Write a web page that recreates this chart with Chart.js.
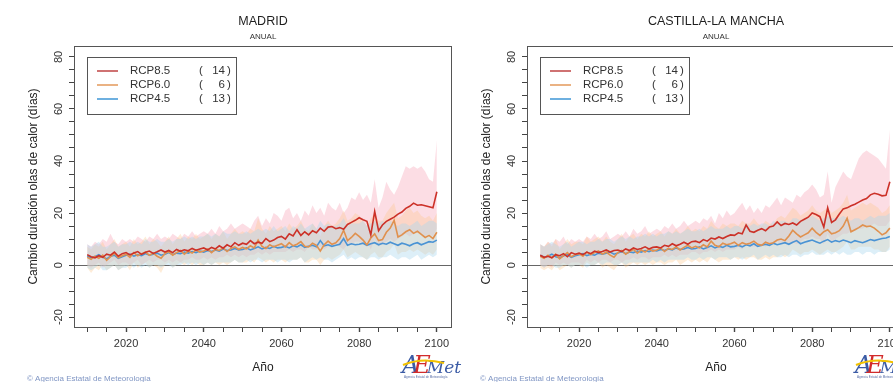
<!DOCTYPE html>
<html><head><meta charset="utf-8">
<script src="https://cdn.jsdelivr.net/npm/chart.js@4/dist/chart.umd.min.js"></script>
<style>
html,body{margin:0;padding:0;background:#fff;overflow:hidden;width:893px;height:382px;}
#wrap{position:relative;width:893px;height:382px;overflow:hidden;background:#fff;}
.panel{position:absolute;top:0;width:475px;height:382px;}
canvas{display:block;}
</style></head><body>
<div id="wrap">
<div class="panel" style="left:453px;z-index:1"><canvas id="c2" width="475" height="382"></canvas></div>
<div class="panel" style="left:0;z-index:2"><canvas id="c1" width="475" height="382"></canvas></div>
</div>
<script>
const years = [2010,2011,2012,2013,2014,2015,2016,2017,2018,2019,
2020,2021,2022,2023,2024,2025,2026,2027,2028,2029,
2030,2031,2032,2033,2034,2035,2036,2037,2038,2039,
2040,2041,2042,2043,2044,2045,2046,2047,2048,2049,
2050,2051,2052,2053,2054,2055,2056,2057,2058,2059,
2060,2061,2062,2063,2064,2065,2066,2067,2068,2069,
2070,2071,2072,2073,2074,2075,2076,2077,2078,2079,
2080,2081,2082,2083,2084,2085,2086,2087,2088,2089,
2090,2091,2092,2093,2094,2095,2096,2097,2098,2099,2100];

const seriesNames = ['RCP8.5','RCP6.0','RCP4.5'];
const modelCounts = [14, 6, 13];
const panelTitles = ['MADRID','CASTILLA-LA MANCHA'];
const subTitle = 'ANUAL';
const yTitle = 'Cambio duración olas de calor (días)';
const xTitle = 'Año';
const yLabelTicks = [-20, 0, 20, 40, 60, 80];
const xLabelTicks = [2020, 2040, 2060, 2080, 2100];

// ---------- MADRID ----------
const madrid85 = [4.0,3.2,2.8,3.6,3.0,4.2,3.8,5.0,3.4,4.4,
4.8,3.9,4.6,5.2,4.1,4.9,5.4,4.5,5.1,5.8,
5.0,5.6,4.8,6.0,5.3,5.9,5.5,6.4,5.7,6.2,
6.6,5.8,6.8,6.2,7.4,6.5,7.8,7.0,8.6,7.6,
8.4,8.0,9.4,8.2,8.8,8.4,10.2,9.0,9.6,10.6,
11.0,10.0,12.0,11.2,13.6,11.4,12.8,11.6,13.2,12.4,
14.2,13.0,14.6,14.8,14.0,14.4,13.8,15.6,16.4,17.2,
18.2,17.4,16.8,11.6,20.6,13.2,15.4,16.8,17.6,18.4,
19.6,20.4,21.8,22.6,23.8,23.0,23.2,22.8,22.4,22.0,28.2];
const madrid85Hi = [8,7,9,8,10,9,12,9,8,10,
9,10,9,11,10,9,11,10,12,10,
11,10,12,11,10,12,11,13,11,12,
13,12,14,12,15,13,14,16,14,15,
16,15,14,17,19,15,18,16,20,19,
17,21,22,18,20,17,21,19,23,20,
22,19,24,22,21,24,20,22,26,25,
28,25,27,24,33,22,26,32,29,27,
30,34,38,37,38,37,38,36,33,32,48];
const madrid85Lo = [0,-1,0,1,-1,0,1,2,0,1,
1,0,1,2,0,1,2,1,2,2,
1,2,1,2,1,2,2,3,2,2,
3,2,3,2,3,3,4,3,4,3,
4,3,4,4,5,4,5,4,5,5,
5,5,6,5,6,6,5,7,6,6,
7,6,7,7,8,7,6,8,8,9,
9,8,9,6,10,7,8,9,10,9,
10,11,12,11,12,13,12,11,12,11,14];

const madrid60 = [3.0,2.2,3.4,2.6,3.8,1.8,3.2,4.6,2.8,3.6,
4.2,3.0,4.8,3.6,4.4,5.0,3.8,4.6,3.4,2.6,
4.4,5.2,3.8,4.8,5.6,4.2,5.4,4.6,5.8,5.0,
5.4,6.2,4.8,6.0,5.6,6.6,5.2,6.4,7.0,6.0,
6.8,6.2,7.4,6.6,9.6,7.2,6.4,7.8,7.0,7.6,
8.2,7.0,8.6,7.4,8.0,9.0,7.2,7.0,8.4,7.6,
5.4,7.8,9.2,8.0,8.6,10.2,13.4,9.4,10.6,12.2,
11.0,9.6,7.8,10.4,12.0,9.4,9.8,12.6,14.2,17.2,
10.8,11.6,12.8,13.6,12.2,13.0,11.8,10.6,11.4,10.2,12.6];
const madrid60Hi = [7,6,8,7,9,6,8,10,7,8,
9,7,10,8,9,11,8,10,9,7,
9,11,8,10,12,9,11,10,12,10,
11,12,10,12,11,13,10,12,14,12,
13,12,14,13,18,14,12,15,13,14,
15,13,16,14,15,17,14,13,16,14,
11,15,17,15,16,18,21,17,18,20,
19,17,15,18,20,17,17,20,22,24,
18,19,21,22,20,21,19,18,19,17,20];
const madrid60Lo = [-1,-3,-1,-2,0,-2,-1,0,-2,-1,
0,-2,1,-1,0,1,-1,0,-1,-3,
0,1,-1,0,1,0,1,0,1,0,
0,1,0,1,0,1,0,1,2,1,
1,1,2,1,3,2,1,2,1,2,
2,1,2,2,2,3,1,1,2,2,
0,2,3,2,3,4,6,3,4,5,
4,3,2,4,5,3,3,5,6,8,
4,5,5,6,5,6,5,4,5,4,6];

const madrid45 = [3.6,2.8,3.2,4.0,3.0,2.4,3.4,3.8,2.6,3.2,
3.8,4.2,3.4,4.0,3.6,4.4,3.8,4.2,4.6,3.8,
4.2,4.8,4.0,4.6,4.4,5.0,4.6,5.2,4.8,5.4,
5.0,5.6,5.2,5.8,5.4,6.2,5.6,5.8,6.4,5.8,
6.0,6.6,5.8,6.4,7.0,6.2,6.8,6.4,7.2,6.6,
6.8,7.2,6.6,7.4,7.0,7.8,6.8,7.2,7.6,7.0,
9.4,7.4,7.8,7.2,7.6,8.0,10.2,7.6,8.2,7.8,
8.0,8.4,7.6,8.2,8.6,7.8,8.4,8.0,8.8,8.2,
7.6,8.4,8.0,7.4,8.2,8.6,7.8,8.4,9.0,8.8,9.6];
const madrid45Hi = [8,7,8,9,7,7,8,9,7,8,
8,9,8,9,8,10,9,9,10,9,
9,10,9,10,10,11,10,11,10,11,
11,12,11,12,11,13,12,12,13,12,
12,13,12,13,14,13,14,13,15,13,
14,15,13,15,14,16,14,15,16,14,
17,15,16,15,15,16,18,15,16,16,
16,17,15,16,17,16,17,16,17,16,
15,16,16,15,16,17,15,16,17,17,16];
const madrid45Lo = [-1,-2,-1,0,-2,-2,-1,0,-2,-1,
-1,0,-1,0,-1,0,-1,0,0,-1,
0,0,-1,0,0,1,0,1,0,1,
0,1,0,1,1,1,1,1,2,1,
1,2,1,2,2,1,2,2,2,1,
2,2,1,2,2,3,1,2,3,2,
3,2,2,1,2,3,4,2,3,2,
3,3,2,3,3,2,3,3,4,3,
2,3,3,2,3,4,2,3,4,3,4];

// ---------- CASTILLA-LA MANCHA ----------
const clm85 = [3.8,3.0,3.4,2.8,4.0,3.6,4.4,3.2,4.8,4.2,
4.6,4.0,5.0,4.4,5.4,4.8,5.2,5.8,5.0,5.6,
5.8,5.2,6.2,5.6,6.6,6.0,6.4,7.0,6.2,6.8,
7.0,6.6,7.6,7.2,8.2,7.4,8.0,8.8,8.0,9.0,
9.2,8.6,9.8,9.2,10.4,10.0,10.8,10.2,11.0,11.6,
11.4,12.4,12.0,15.4,13.0,12.6,13.4,14.0,13.2,14.6,
15.0,16.6,15.2,16.0,15.6,16.2,15.4,16.8,17.6,18.4,
20.0,19.4,18.6,14.6,22.0,16.4,17.4,19.6,21.6,22.0,
22.8,23.4,24.2,25.0,25.6,27.0,27.6,27.2,26.6,26.8,32.0];
const clm85Hi = [8,7,9,8,10,9,11,8,10,9,
10,9,11,10,12,10,11,13,10,11,
12,11,13,11,14,12,13,15,12,13,
14,13,15,14,16,14,15,17,15,16,
17,16,18,17,19,16,20,18,21,19,
20,22,24,21,23,20,22,20,23,22,
24,26,23,26,25,24,27,26,28,29,
31,29,26,27,36,24,30,33,36,34,
33,37,41,43,44,43,42,41,39,37,52];
const clm85Lo = [0,-1,0,-1,1,0,1,0,1,1,
1,0,2,1,2,1,2,2,1,2,
2,1,2,2,3,2,3,3,2,3,
3,3,4,3,4,3,4,4,4,5,
5,4,5,5,6,5,6,5,6,6,
6,7,6,8,7,7,7,8,7,8,
8,9,8,9,8,9,8,9,10,10,
11,10,10,8,12,9,10,11,12,12,
13,13,14,14,15,15,16,15,15,15,17];

const clm60 = [3.4,2.6,3.8,2.8,4.2,2.4,3.6,4.8,3.2,4.0,
4.4,3.4,5.0,4.0,4.8,5.4,4.2,5.0,3.8,3.0,
4.8,5.6,4.2,5.2,6.0,4.6,5.8,5.0,6.2,5.4,
5.8,6.6,5.2,6.4,6.0,7.0,5.8,6.8,7.6,6.6,
7.2,6.6,7.8,7.0,9.2,7.6,7.0,8.4,7.8,8.2,
8.8,7.6,8.6,8.0,8.4,9.2,8.0,7.6,8.8,8.2,
8.6,9.6,10.0,9.4,11.2,13.4,12.0,10.8,11.6,12.4,
14.2,12.6,11.4,12.8,13.6,12.0,12.4,13.2,15.0,18.0,
12.8,13.6,14.4,15.4,14.8,15.0,14.2,13.0,11.6,12.4,14.2];
const clm60Hi = [8,7,9,7,10,6,8,10,8,9,
9,8,11,9,10,11,9,11,9,8,
10,12,9,11,12,10,12,11,13,11,
12,13,11,13,12,14,12,13,15,13,
14,13,15,14,17,15,14,16,15,16,
16,15,17,16,16,18,16,15,17,16,
16,18,19,18,20,22,21,19,20,21,
23,21,20,21,22,20,21,22,24,27,
21,22,23,24,23,24,23,22,20,21,23];
const clm60Lo = [-1,-2,-1,-2,0,-2,-1,0,-1,0,
0,-1,1,0,0,1,-1,0,-1,-2,
0,1,-1,0,1,0,1,0,1,0,
1,1,0,1,1,2,0,1,2,1,
2,1,2,1,3,2,1,2,2,2,
3,2,3,2,3,3,2,2,3,2,
3,3,4,3,4,6,5,4,5,5,
6,5,4,5,6,5,5,6,7,9,
6,6,7,7,7,7,6,6,5,5,7];

const clm45 = [3.8,3.0,3.4,4.2,3.2,2.8,3.6,4.0,3.0,3.6,
4.0,4.4,3.6,4.2,3.8,4.6,4.2,4.6,5.0,4.2,
4.6,5.2,4.4,5.0,4.8,5.4,5.0,5.6,5.2,5.8,
5.4,6.0,5.6,6.2,5.8,6.6,6.0,6.2,6.8,6.2,
6.4,7.0,6.2,6.8,7.4,6.6,7.2,6.8,7.6,7.0,
7.2,7.6,7.0,7.8,7.4,8.2,7.2,7.6,8.0,7.6,
8.4,7.8,8.2,8.6,8.0,8.8,9.4,8.2,8.8,9.2,
9.6,9.0,8.4,9.2,9.8,8.8,9.4,9.0,9.6,9.2,
8.6,9.4,9.0,8.6,9.2,9.8,9.4,9.8,10.2,10.4,11.0];
const clm45Hi = [8,7,8,9,8,7,8,9,7,8,
9,9,8,9,9,10,9,10,10,9,
10,11,10,11,10,11,11,12,11,12,
11,12,12,13,12,13,12,13,14,13,
13,14,13,14,15,14,14,14,15,14,
15,15,14,16,15,16,15,16,16,15,
17,16,17,17,16,18,18,17,18,18,
19,18,17,18,19,18,18,18,19,18,
17,18,18,17,18,19,18,19,19,19,20];
const clm45Lo = [0,-1,0,0,-1,-1,0,0,-1,0,
0,0,-1,0,0,1,0,1,1,0,
0,1,0,1,1,1,1,1,1,2,
1,2,1,2,2,2,2,2,3,2,
2,3,2,3,3,2,3,3,3,2,
3,3,2,3,3,4,2,3,4,3,
4,3,3,4,3,4,4,3,4,4,
5,4,4,4,5,4,5,4,5,4,
4,5,5,4,5,5,4,5,5,5,6];

const lineColors = ['#cc3128','#e0914f','#4a93d4'];
const bandColors = ['rgba(245,150,172,0.32)','rgba(253,200,140,0.34)','rgba(170,216,238,0.40)'];
const legendColors = ['#cf7272','#eab283','#6eb0e0'];

function pts(arr){ return arr.map((v,i)=>({x:years[i], y:v})); }

function buildDatasets(means, los, his){
  const ds = [];
  const bandOrder = [5,4,3];
  for (let k=0;k<3;k++){
    ds.push({label:seriesNames[k]+' lo', data:pts(los[k]), borderWidth:0, pointRadius:0, fill:false, order:bandOrder[k]});
    ds.push({label:seriesNames[k]+' hi', data:pts(his[k]), borderWidth:0, pointRadius:0, fill:'-1', backgroundColor:bandColors[k], order:bandOrder[k]});
  }
  for (let k=0;k<3;k++){
    ds.push({label:seriesNames[k], data:pts(means[k]), borderColor:lineColors[k], borderWidth:1.6, pointRadius:0, fill:false, order:k, tension:0});
  }
  return ds;
}

const FONT = '"Liberation Sans", Arial, Helvetica, sans-serif';

const deco = {
  id:'deco',
  beforeDraw(chart){
    const c=chart.ctx;
    c.save(); c.fillStyle='#fff'; c.fillRect(0,0,453,chart.height); c.restore();
  },
  afterDraw(chart, args, opts){
    const c = chart.ctx, a = chart.chartArea;
    const cx = (a.left + a.right)/2;
    c.save();
    c.strokeStyle='#555'; c.lineWidth=1;
    c.strokeRect(Math.round(a.left)+0.5, Math.round(a.top)+0.5, Math.round(a.right-a.left)-1, Math.round(a.bottom-a.top));
    c.fillStyle='#1e1e1e'; c.textAlign='center'; c.textBaseline='middle';
    c.font='12.5px '+FONT; c.fillText(opts.title, cx, 22);
    c.font='8px '+FONT; c.fillStyle='#333'; c.fillText(subTitle, cx, 37);
    c.font='12px '+FONT; c.fillStyle='#222'; c.fillText(xTitle, cx, 368);
    c.save(); c.translate(34, (a.top+a.bottom)/2); c.rotate(-Math.PI/2);
    c.font='12px '+FONT; c.fillStyle='#222'; c.fillText(yTitle, 0, 0); c.restore();
    // legend
    const lx=a.left+13, ly=a.top+11;
    c.strokeStyle='#555'; c.lineWidth=1;
    c.strokeRect(Math.round(lx)+0.5, Math.round(ly)+0.5, 149, 57);
    c.font='11.5px '+FONT; c.textBaseline='middle';
    for (let k=0;k<3;k++){
      const y = ly+14+k*14;
      c.strokeStyle=legendColors[k]; c.lineWidth=2;
      c.beginPath(); c.moveTo(lx+10,y); c.lineTo(lx+31,y); c.stroke();
      c.fillStyle='#333'; c.textAlign='left';
      c.fillText(seriesNames[k], lx+43, y);
      c.fillText('(', lx+112, y);
      c.textAlign='right'; c.fillText(String(modelCounts[k]), lx+138, y);
      c.textAlign='left'; c.fillText(')', lx+140, y);
    }
    // copyright
    c.font='8px '+FONT; c.fillStyle='#8096c4'; c.textAlign='left';
    c.fillText('\u00A9 Agencia Estatal de Meteorología', 27, 379);
    // AEMet logo
    const bx=402, by=373;
    c.textAlign='left'; c.textBaseline='alphabetic';
    c.font='italic 24px "DejaVu Serif", serif';
    c.fillStyle='#3b5ba5'; c.fillText('A', bx, by);
    const wA=c.measureText('A').width;
    c.fillStyle='#d22b2b'; c.fillText('E', bx+wA-6, by);
    const wE=c.measureText('E').width;
    c.font='italic 17px "DejaVu Serif", serif';
    c.fillStyle='#3b5ba5'; c.fillText('Met', bx+wA+wE-10, by);
    c.strokeStyle='#f2c200'; c.lineWidth=2;
    c.beginPath(); c.moveTo(bx+1, by-8); c.quadraticCurveTo(bx+20, by-16, bx+42, by-10); c.stroke();
    c.font='3px '+FONT; c.fillStyle='#5a6fa8'; c.fillText('Agencia Estatal de Meteorología', bx+2, by+5);
    c.restore();
  }
};

function makeChart(id, title, means, los, his){
  return new Chart(document.getElementById(id), {
    type:'line',
    data:{datasets: buildDatasets(means, los, his)},
    options:{
      responsive:false, animation:false, devicePixelRatio:1,
      layout:{padding:{left:0,right:23,top:46,bottom:0}},
      plugins:{legend:{display:false}, tooltip:{enabled:false}, title:{display:false}, deco:{title:title}},
      scales:{
        x:{type:'linear', min:2006.6, max:2103.9,
          afterFit(s){ s.height=55; },
          border:{display:false},
          grid:{drawOnChartArea:false, drawTicks:true, tickLength:5, tickColor:'#444', tickWidth:(ctx)=> (ctx.tick && ctx.tick.value%20===0)?1.4:1},
          ticks:{stepSize:5, includeBounds:false, autoSkip:false, maxRotation:0, padding:5, color:'#333', font:{family:FONT, size:11},
            callback:(v)=> xLabelTicks.includes(v) ? String(v) : ''}
        },
        y:{type:'linear', min:-23.8, max:84.2,
          afterFit(s){ s.width=74; },
          border:{display:false},
          grid:{drawOnChartArea:true, drawTicks:true, tickLength:5, tickColor:'#444',
            color:(ctx)=> (ctx.tick && ctx.tick.value===0) ? '#666' : 'rgba(0,0,0,0)', lineWidth:1},
          ticks:{stepSize:5, includeBounds:false, autoSkip:false, minRotation:90, maxRotation:90, crossAlign:'center', padding:2, color:'#333', font:{family:FONT, size:11},
            callback:(v)=> yLabelTicks.includes(v) ? String(v) : ''}
        }
      }
    },
    plugins:[deco]
  });
}

makeChart('c1', panelTitles[0], [madrid85, madrid60, madrid45], [madrid85Lo, madrid60Lo, madrid45Lo], [madrid85Hi, madrid60Hi, madrid45Hi]);
makeChart('c2', panelTitles[1], [clm85, clm60, clm45], [clm85Lo, clm60Lo, clm45Lo], [clm85Hi, clm60Hi, clm45Hi]);
</script>
</body></html>
